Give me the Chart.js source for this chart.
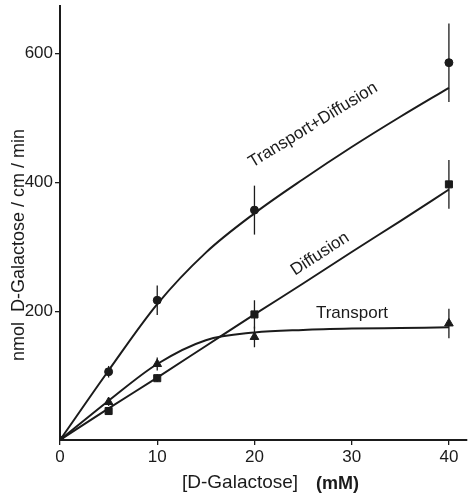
<!DOCTYPE html>
<html>
<head>
<meta charset="utf-8">
<script src="https://cdn.jsdelivr.net/npm/chart.js@4.4.1/dist/chart.umd.min.js"></script>
<style>
  html, body { margin: 0; padding: 0; background: #fff; }
  #wrap { width: 473px; height: 496px; position: relative; }
</style>
</head>
<body>
<div id="wrap"><canvas id="myChart"></canvas></div>
<script>
// concentrations (mM)
const conc = [0, 5, 10, 20, 40];
// measured points
const tdValues = [0, 106, 217, 357, 586];
const tdErr = [0, 9, 23, 38, 61];
const diffValues = [0, 45, 96, 195, 397];
const diffErr = [0, 5, 6, 22, 38];
const trValues = [0, 59, 118, 160, 181];
const trErr = [0, 6, 10, 16, 23];

// fitted curves as drawn
const curveX = [0, 5, 10, 15, 20, 25, 30, 35, 40];
const tdCurve = [0, 108, 211, 291, 352, 405, 455, 502, 547];
const trCurve = [0, 61, 118, 155, 167, 171, 173, 174, 175];
const diffCurve = [0, 49, 97, 146, 195, 243, 292, 340, 389];

const xTicks = [0, 10, 20, 30, 40];
const yTicks = [200, 400, 600];

const ink = "#1b1b1b";
const fontFam = "'Liberation Sans', Arial, sans-serif";

function pts(xs, ys) {
  return xs.map((x, i) => ({ x: x, y: ys[i] }));
}

function curveSet(ys) {
  return {
    type: "line",
    data: pts(curveX, ys),
    borderColor: ink,
    borderWidth: 2,
    pointRadius: 0,
    cubicInterpolationMode: "monotone",
    fill: false,
    order: 2
  };
}

function markSet(ys, style, r) {
  return {
    type: "scatter",
    data: pts(conc, ys),
    pointStyle: style,
    pointRadius: r,
    pointBackgroundColor: ink,
    pointBorderColor: ink,
    pointBorderWidth: 1,
    showLine: false,
    order: 1
  };
}

const errorBars = {
  id: "errorBars",
  afterDatasetsDraw(chart) {
    const ctx = chart.ctx;
    const xs = chart.scales.x, ys = chart.scales.y;
    const groups = [[tdValues, tdErr], [diffValues, diffErr], [trValues, trErr]];
    ctx.save();
    ctx.strokeStyle = ink;
    ctx.lineWidth = 1.3;
    groups.forEach(([vals, errs]) => {
      vals.forEach((v, i) => {
        if (!errs[i]) return;
        const px = xs.getPixelForValue(conc[i]);
        ctx.beginPath();
        ctx.moveTo(px, ys.getPixelForValue(v + errs[i]));
        ctx.lineTo(px, ys.getPixelForValue(v - errs[i]));
        ctx.stroke();
      });
    });
    ctx.restore();
  }
};

const labels = {
  id: "labels",
  afterDraw(chart) {
    const ctx = chart.ctx;
    ctx.save();
    ctx.fillStyle = ink;
    ctx.textAlign = "center";
    ctx.textBaseline = "middle";

    ctx.font = "17px " + fontFam;
    ctx.save();
    ctx.translate(313, 125);
    ctx.rotate(-31.5 * Math.PI / 180);
    ctx.fillText("Transport+Diffusion", 0, 0);
    ctx.restore();

    ctx.save();
    ctx.translate(320, 254);
    ctx.rotate(-33 * Math.PI / 180);
    ctx.fillText("Diffusion", 0, 0);
    ctx.restore();

    ctx.fillText("Transport", 352, 313);

    // axis titles
    ctx.font = "18px " + fontFam;
    ctx.save();
    ctx.translate(19, 245);
    ctx.rotate(-Math.PI / 2);
    ctx.fillText("nmol  D-Galactose / cm / min", 0, 0);
    ctx.restore();

    ctx.textAlign = "left";
    ctx.font = "19px " + fontFam;
    ctx.fillText("[D-Galactose]", 182, 483);
    ctx.font = "bold 18px " + fontFam;
    ctx.fillText("(mM)", 316, 484);
    ctx.restore();
  }
};

new Chart(document.getElementById("myChart"), {
  data: {
    datasets: [
      markSet(tdValues, "circle", 4),
      markSet(diffValues, "rect", 5),
      markSet(trValues, "triangle", 5),
      curveSet(tdCurve),
      curveSet(diffCurve),
      curveSet(trCurve)
    ]
  },
  options: {
    responsive: true,
    maintainAspectRatio: false,
    animation: false,
    layout: { padding: { top: 5, right: 0, left: 0, bottom: 0 } },
    plugins: { legend: { display: false }, tooltip: { enabled: false } },
    scales: {
      x: {
        type: "linear",
        min: 0,
        max: 41.86,
        afterFit(s) { s.height = 56; s.paddingLeft = 0; s.paddingRight = 0; },
        afterBuildTicks(s) { s.ticks = xTicks.map(v => ({ value: v })); },
        border: { display: true, color: ink, width: 2 },
        grid: { drawOnChartArea: false, color: ink, tickLength: 5, lineWidth: 1.3 },
        ticks: { color: ink, font: { family: fontFam, size: 17 }, padding: 2 }
      },
      y: {
        type: "linear",
        min: 0,
        max: 674,
        afterFit(s) { s.width = 60; s.paddingTop = 0; s.paddingBottom = 0; },
        afterBuildTicks(s) { s.ticks = yTicks.map(v => ({ value: v })); },
        border: { display: true, color: ink, width: 2 },
        grid: { drawOnChartArea: false, color: ink, tickLength: 5, lineWidth: 1.3 },
        ticks: { color: ink, font: { family: fontFam, size: 17 }, padding: 2 }
      }
    }
  },
  plugins: [errorBars, labels]
});
</script>
</body>
</html>
